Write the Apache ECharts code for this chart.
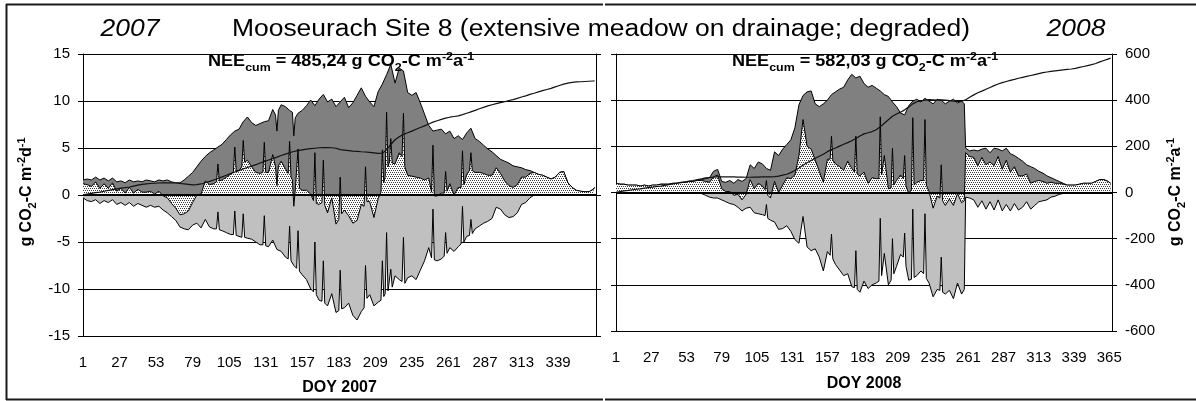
<!DOCTYPE html>
<html>
<head>
<meta charset="utf-8">
<title>Mooseurach Site 8</title>
<script src="https://cdn.jsdelivr.net/npm/echarts@6/dist/echarts.min.js"></script>
<style>
  html, body { margin: 0; padding: 0; background: #ffffff; }
  #chart { width: 1196px; height: 401px; }
</style>
</head>
<body>
<div id="chart"></div>
<script>
// ---- Daily carbon fluxes, Mooseurach Site 8 (g CO2-C m-2 d-1) and cumulative NEE (g CO2-C m-2 a-1)
// Regular readings every third day; short-lived peaks get extra daily readings below.

const doy2007 = [1,4,7,10,13,16,19,22,25,28,
  31,34,37,40,43,46,49,52,55,58,
  61,64,67,70,73,76,79,82,85,88,
  91,94,97,100,103,106,109,112,115,118,
  121,124,127,130,133,136,139,142,145,148,
  151,154,157,160,163,166,169,172,175,178,
  181,184,187,190,193,196,199,202,205,208,
  211,214,217,220,223,226,229,232,235,238,
  241,244,247,250,253,256,259,262,265,268,
  271,274,277,280,283,286,289,292,295,298,
  301,304,307,310,313,316,319,322,325,328,
  331,334,337,340,343,346,349,352,355,358,
  361,364,365];

const reco2007 = [1.6,1.7,1.6,1.9,1.6,1.8,1.5,1.8,1.4,1.5,
  1.3,1.6,1.4,1.5,1.4,1.6,1.5,1.4,1.6,1.5,
  1.6,1.4,1.3,1.3,1.6,2.0,2.4,3.0,3.6,4.1,
  4.5,4.8,5.1,5.4,5.9,6.4,6.8,7.0,7.8,8.3,
  7.7,7.4,7.6,7.8,7.9,9.1,6.8,9.6,9.4,9.0,
  6.3,8.7,9.0,9.5,10.1,9.5,10.2,10.7,9.9,10.2,
  9.4,9.9,10.4,9.3,9.8,10.6,11.4,10.5,9.9,9.4,
  11.0,11.8,12.8,13.9,11.9,13.5,13.2,10.9,10.6,10.9,
  9.8,8.6,7.4,6.8,6.9,7.0,6.5,6.8,6.0,6.3,
  5.9,6.6,7.1,6.0,5.7,5.3,4.9,4.6,4.2,3.8,
  3.6,3.4,3.1,3.0,2.9,2.7,2.6,2.4,2.2,2.1,
  1.9,1.7,1.9,2.4,2.5,1.3,0.8,0.5,0.4,0.35,
  0.35,0.6,0.8];

const gpp2007 = [-0.3,-0.6,-0.7,-0.5,-0.9,-0.6,-0.8,-0.5,-1.0,-0.8,
  -1.1,-0.8,-1.2,-0.9,-1.1,-1.3,-1.1,-1.3,-1.2,-1.6,
  -1.9,-2.3,-2.7,-3.4,-3.6,-3.7,-3.2,-3.0,-3.5,-2.6,
  -3.4,-3.6,-1.8,-3.8,-4.0,-4.2,-1.7,-4.4,-2.0,-4.6,
  -4.7,-5.0,-5.3,-2.2,-5.5,-4.8,-5.8,-6.0,-6.6,-3.3,
  -7.5,-3.8,-8.5,-9.0,-10.0,-5.0,-11.2,-7.0,-11.8,-10.5,
  -12.5,-8.0,-12.0,-11.5,-12.8,-13.3,-12.4,-7.5,-10.6,-11.8,
  -11.4,-7.0,-4.0,-7.9,-8.6,-9.0,-4.5,-8.8,-8.6,-9.0,
  -8.0,-7.0,-5.6,-1.5,-7.0,-6.8,-4.0,-5.6,-6.0,-5.5,
  -1.2,-4.4,-2.6,-3.6,-3.3,-3.0,-2.8,-2.5,-1.3,-1.5,
  -2.1,-2.4,-2.3,-1.9,-1.0,-0.8,-0.3,0,0,0,
  0,0,0,0,0,0,0,0,0,0,
  0,0,0];

const nee2007 = [1.2,1.1,0.9,1.4,0.7,1.2,0.7,1.3,0.4,0.7,
  0.2,0.8,0.2,0.6,0.3,0.3,0.4,0.1,0.4,-0.1,
  -0.3,-0.9,-1.4,-2.1,-2.0,-1.7,-0.8,0.0,0.1,1.5,
  1.1,1.2,3.3,1.6,1.9,2.2,5.1,2.6,5.8,3.7,
  3.0,2.4,2.3,5.6,2.4,4.3,1.0,3.6,2.8,5.7,
  -1.2,4.9,0.5,0.5,0.1,4.5,-1.0,3.7,-1.9,-0.3,
  -3.1,1.9,-1.6,-2.2,-3.0,-2.7,-1.0,3.0,-0.7,-2.4,
  -0.4,4.8,8.8,6.0,3.3,4.5,8.7,2.1,2.0,1.9,
  1.8,1.6,1.8,5.3,-0.1,0.2,2.5,1.2,0.0,0.8,
  4.7,2.2,4.5,2.4,2.4,2.3,2.1,2.1,2.9,2.3,
  1.5,1.0,0.8,1.1,1.9,1.9,2.3,2.4,2.2,2.1,
  1.9,1.7,1.9,2.4,2.5,1.3,0.8,0.5,0.4,0.35,
  0.35,0.6,0.8];

const neeCum2007 = [1,4,7,10,12,16,20,23,26,29,
  31,34,38,42,45,47,49,50,51,52,
  52,52,51,49,47,45,43,44,47,52,
  58,64,70,77,84,91,98,104,111,117,
  123,129,136,142,149,155,161,168,174,180,
  185,189,192,195,197,199,201,202,202,201,
  199,193,191,189,187,186,184,183,181,179,
  177,178,192,215,235,248,258,265,272,280,
  287,294,302,310,316,322,327,331,334,337,
  342,348,354,360,367,373,379,384,389,393,
  397,402,406,411,417,422,428,433,439,444,
  449,454,460,466,472,476,479,481,482,483,
  484,485,485.24];

// extra daily readings [day, value] around short peaks and dips, 2007
const recoPeaks2007 = [[138,8.5],[140,9.0],[150,8.8],[152,8.2]];
const gppPeaks2007 = [[96,-3.6],[98,-3.7],[108,-4.2],[110,-4.3],[114,-4.5],[116,-4.5],
  [129,-5.3],[131,-5.4],[147,-6.8],[149,-7.0],[153,-7.8],[155,-8.1],
  [165,-10.3],[167,-10.6],[171,-11.3],[173,-11.5],[183,-12.3],[185,-12.1],
  [201,-12.0],[203,-11.0],[213,-11.2],[215,-10.8],[216,-10.5],[218,-10.2],[219,-10.0],[221,-9.8],
  [228,-9.2],[230,-9.4],[249,-6.7],[251,-6.9],[258,-6.5],[260,-6.2],
  [270,-5.2],[272,-5.0],[276,-4.3],[278,-4.1]];
const neePeaks2007 = [[96,1.4],[98,1.5],[108,2.5],[110,2.6],[114,3.0],[116,3.5],
  [129,2.4],[131,2.4],[138,3.0],[140,3.1],[147,2.3],[149,1.9],[150,1.6],[152,0.5],[153,0.6],[155,0.7],
  [165,-0.6],[167,-0.9],[171,-0.8],[173,-1.1],[183,-2.6],[185,-2.0],
  [201,-1.2],[203,-0.7],[213,0.3],[215,1.3],[216,2.0],[218,3.0],[219,3.5],[221,3.4],
  [228,4.1],[230,3.0],[249,0.3],[251,-0.1],[258,0.2],[260,0.4],
  [270,0.8],[272,1.1],[276,2.6],[278,2.6]];

const doy2008 = [1,4,7,10,13,16,19,22,25,28,
  31,34,37,40,43,46,49,52,55,58,
  61,64,67,70,73,76,79,82,85,88,
  91,94,97,100,103,106,109,112,115,118,
  121,124,127,130,133,136,139,142,145,148,
  151,154,157,160,163,166,169,172,175,178,
  181,184,187,190,193,196,199,202,205,208,
  211,214,217,220,223,226,229,232,235,238,
  241,244,247,250,253,256,259,262,265,268,
  271,274,277,280,283,286,289,292,295,298,
  301,304,307,310,313,316,319,322,325,328,
  331,334,337,340,343,346,349,352,355,358,
  361,364,366];

const reco2008 = [1.0,0.9,0.9,0.8,0.8,0.8,0.7,0.8,0.7,0.8,
  0.8,0.9,0.9,0.9,1.0,1.0,1.1,1.1,1.2,1.2,
  1.3,1.4,1.5,1.6,2.3,2.5,1.2,1.1,1.3,1.0,
  1.4,1.2,1.5,3.0,2.6,3.3,3.1,2.6,2.4,4.4,
  4.0,4.7,5.2,5.7,7.0,9.5,10.5,10.9,11.0,9.6,
  9.3,9.6,10.0,10.6,10.9,11.2,11.4,12.2,12.8,12.4,
  12.6,11.8,11.4,11.6,11.3,11.0,10.6,10.4,9.8,9.3,
  8.6,8.4,9.4,9.9,10.1,9.8,10.2,9.9,9.6,10.1,
  10.0,9.6,9.9,10.1,9.7,9.9,4.8,4.5,4.6,4.5,
  4.7,4.8,4.3,4.8,4.7,4.5,4.8,4.2,4.0,3.7,
  3.4,3.0,2.8,2.6,2.3,2.1,1.8,1.6,1.4,1.2,
  1.0,0.8,0.8,0.8,0.9,1.0,1.0,1.0,1.2,1.4,
  1.4,1.2,1.0];

const gpp2008 = [0,0,0,0,0,0,0,0,0,0,
  0,0,0,0,0,0,0,0,0,0,
  0,-0.1,-0.3,-0.5,-0.6,-0.6,-0.8,-1.0,-1.2,-1.3,
  -1.6,-2.0,-1.7,-1.6,-2.2,-2.3,-2.4,-1.3,-3.0,-3.2,
  -4.0,-3.9,-3.6,-4.2,-5.1,-5.5,-2.6,-5.9,-6.3,-6.1,
  -7.0,-8.5,-6.4,-4.5,-7.8,-8.4,-9.0,-8.8,-10.2,-6.3,
  -10.8,-9.6,-10.4,-10.0,-9.8,-2.8,-6.6,-10.0,-5.0,-8.0,
  -6.7,-4.4,-9.5,-1.8,-9.0,-8.5,-2.3,-9.8,-11.3,-10.5,
  -7.0,-11.0,-10.6,-11.5,-9.8,-11.0,-0.5,-0.6,-0.8,-1.6,
  -0.9,-1.8,-1.0,-1.9,-0.8,-2.0,-1.3,-2.0,-1.2,-1.9,
  -1.6,-1.0,-1.8,-1.4,-1.0,-0.9,-0.8,-0.5,-0.4,-0.2,
  -0.1,0,0,0,0,0,0,0,0,0,
  0,0,0];

const nee2008 = [1.0,0.9,0.9,0.8,0.8,0.8,0.7,0.8,0.7,0.8,
  0.8,0.9,0.9,0.9,1.0,1.0,1.1,1.1,1.2,1.2,
  1.3,1.3,1.2,1.1,1.7,1.9,0.4,0.1,0.1,-0.3,
  -0.2,-0.8,-0.2,1.4,0.4,1.0,0.7,1.3,-0.6,1.2,
  0.0,0.8,1.6,1.5,1.9,4.0,7.9,5.0,4.7,3.5,
  2.3,1.1,3.6,6.1,3.1,2.8,2.4,3.4,2.6,6.1,
  1.8,2.2,1.0,1.6,1.5,8.2,4.0,0.4,4.8,1.3,
  1.9,4.0,-0.1,8.1,1.1,1.3,7.9,0.1,-1.7,-0.4,
  3.0,-1.4,-0.7,-1.4,-0.1,-1.1,4.3,3.9,3.8,2.9,
  3.8,3.0,3.3,2.9,3.9,2.5,3.5,2.2,2.8,1.8,
  1.8,2.0,1.0,1.2,1.3,1.2,1.0,1.1,1.0,1.0,
  0.9,0.8,0.8,0.8,0.9,1.0,1.0,1.0,1.2,1.4,
  1.4,1.2,1.0];

const neeCum2008 = [1,4,7,9,12,14,16,19,21,23,
  26,28,31,34,37,40,43,46,49,52,
  56,59,63,65,67,68,68,68,68,68,
  67,67,66,66,67,67,68,68,68,69,
  71,75,79,86,95,106,118,129,139,148,
  157,166,177,186,193,201,209,216,224,234,
  245,254,259,264,272,285,300,315,330,340,
  348,358,370,384,393,397,400,402,401,400,
  401,400,398,396,394,395,402,413,423,432,
  439,447,455,463,470,476,481,486,490,495,
  499,503,507,511,515,519,522,525,527,529,
  531,533,535,538,542,546,550,554,559,566,
  572,578,582.03];

// extra daily readings [day, value] around short peaks and the September drop, 2008
const recoPeaks2008 = [[258,9.6]];
const gppPeaks2008 = [[111,-2.5],[113,-2.8],[159,-6.8],[161,-7.2],[177,-10.3],[179,-10.5],
  [195,-9.6],[197,-9.0],[204,-9.5],[206,-8.8],[213,-7.0],[215,-8.0],
  [219,-9.4],[221,-9.2],[228,-8.8],[230,-9.3],[240,-10.6],[242,-10.8],[258,-10.5]];
const neePeaks2008 = [[111,0.3],[113,-0.3],[159,3.6],[161,3.5],[177,2.2],[179,2.0],
  [195,1.5],[197,1.9],[204,0.5],[206,0.8],[213,1.5],[215,0.7],
  [219,0.3],[221,0.8],[228,1.3],[230,0.8],[240,-0.6],[242,-0.9],[258,-0.9]];

// Axis tick labels
const doyTicks2007 = [1,27,53,79,105,131,157,183,209,235,261,287,313,339];
const doyTicks2008 = [1,27,53,79,105,131,157,183,209,235,261,287,313,339,365];
const fluxTicks = [-15,-10,-5,0,5,10,15];
const cumTicks = [-600,-400,-200,0,200,400,600];

const TITLE = 'Mooseurach Site 8 (extensive meadow on drainage; degraded)';
const YEAR_LEFT = '2007';
const YEAR_RIGHT = '2008';
const X_NAME_LEFT = 'DOY 2007';
const X_NAME_RIGHT = 'DOY 2008';

// ---- helpers
const SANS = "'Liberation Sans', Arial, sans-serif";
function font(size, weight, style) {
  return (style || 'normal') + ' ' + (weight || 'normal') + ' ' + size + 'px ' + SANS;
}

// white fill with a fine staggered black stipple
function stipple() {
  const c = document.createElement('canvas');
  c.width = 4; c.height = 4;
  const g = c.getContext('2d');
  g.fillStyle = '#ffffff';
  g.fillRect(0, 0, 4, 4);
  g.fillStyle = '#3c3c3c';
  g.fillRect(0, 0, 1, 1);
  g.fillRect(2, 0, 1, 1);
  g.fillRect(1, 2, 1, 1);
  g.fillRect(3, 2, 1, 1);
  return c;
}
const dotFill = { image: stipple(), repeat: 'repeat' };

// x is stored as day-1 so that axis ticks fall on 1, 27, 53, ...
function series(days, vals, extra) {
  const pts = days.map((d, i) => [d, vals[i]]).concat(extra || []);
  pts.sort((a, b) => a[0] - b[0]);
  return pts.map(p => [p[0] - 1, p[1]]);
}

function fmtComma(v) { return v.toFixed(2).replace('.', ','); }

const unitRich = {
  n:  { font: font(16, 'bold'), lineHeight: 22, verticalAlign: 'middle', fill: '#000' },
  sb: { font: font(11, 'bold'), lineHeight: 11, verticalAlign: 'bottom', fill: '#000' },
  sp: { font: font(11, 'bold'), lineHeight: 11, verticalAlign: 'top', fill: '#000' }
};
function neeText(total) {
  return '{n|NEE}{sb|cum}{n| = ' + fmtComma(total) + ' g CO}{sb|2}{n|-C m}{sp|-2}{n|a}{sp|-1}';
}
const unitDaily = '{n|g CO}{sb|2}{n|-C m}{sp|-2}{n|d}{sp|-1}';
const unitAnnual = '{n|g CO}{sb|2}{n|-C m}{sp|-2}{n|a}{sp|-1}';

function xAxisFor(gi, ticks, maxV, name, gap) {
  return {
    type: 'value', gridIndex: gi, min: 0, max: maxV, interval: ticks[1] - ticks[0],
    axisLine: { show: true, onZero: false, lineStyle: { color: '#000', width: 1 } },
    axisTick: { show: false },
    splitLine: { show: false },
    axisLabel: {
      margin: 19, fontSize: 15, fontFamily: SANS, color: '#000',
      showMinLabel: true, showMaxLabel: true, hideOverlap: false,
      formatter: v => (ticks.indexOf(Math.round(v) + 1) >= 0 && Math.abs(v - Math.round(v)) < 1e-6) ? String(Math.round(v) + 1) : ''
    },
    name: name, nameLocation: 'middle', nameGap: gap,
    nameTextStyle: { fontSize: 16, fontWeight: 'bold', fontFamily: SANS, color: '#000' }
  };
}

function yAxisFor(gi, ticks, pos, showLabels, showGrid) {
  return {
    type: 'value', gridIndex: gi, position: pos,
    min: ticks[0], max: ticks[ticks.length - 1], interval: ticks[1] - ticks[0],
    axisLine: { show: true, onZero: false, lineStyle: { color: '#000', width: 1 } },
    axisTick: { show: true, inside: false, length: 5, lineStyle: { color: '#000', width: 1 } },
    axisLabel: { show: showLabels, margin: 13, fontSize: 15, fontFamily: SANS, color: '#000' },
    splitLine: { show: showGrid, lineStyle: { color: '#000', width: 1 } }
  };
}

function area(xi, yi, data, fill, z, extra) {
  return Object.assign({
    type: 'line', xAxisIndex: xi, yAxisIndex: yi, data: data,
    showSymbol: false, symbol: 'none', smooth: false, silent: true, animation: false,
    lineStyle: { color: '#000', width: 1 },
    areaStyle: { color: fill, opacity: 1, origin: 'auto' },
    z: z
  }, extra || {});
}

function zeroLine() {
  return {
    silent: true, symbol: 'none', animation: false,
    label: { show: false },
    lineStyle: { color: '#000', width: 2, type: 'solid' },
    data: [{ yAxis: 0 }]
  };
}

function cumLine(xi, yi, data) {
  return {
    type: 'line', xAxisIndex: xi, yAxisIndex: yi, data: data,
    showSymbol: false, symbol: 'none', silent: true, animation: false,
    lineStyle: { color: '#111', width: 1.2 }, z: 6
  };
}

const frame = { stroke: '#1a1a1a', lineWidth: 2 };

const option = {
  animation: false,
  backgroundColor: '#ffffff',
  grid: [
    { left: 83, top: 54, width: 513, height: 282, containLabel: false, outerBoundsMode: 'none' },
    { left: 616, top: 54, width: 496, height: 277, containLabel: false, outerBoundsMode: 'none' }
  ],
  xAxis: [
    xAxisFor(0, doyTicks2007, 365, X_NAME_LEFT, 44),
    xAxisFor(1, doyTicks2008, 366, X_NAME_RIGHT, 45)
  ],
  yAxis: [
    yAxisFor(0, fluxTicks, 'left', true, true),
    yAxisFor(0, cumTicks, 'right', false, false),
    yAxisFor(1, fluxTicks, 'left', false, true),
    yAxisFor(1, cumTicks, 'right', true, false)
  ],
  series: [
    area(0, 0, series(doy2007, reco2007, recoPeaks2007), '#808080', 2),
    area(0, 0, series(doy2007, gpp2007, gppPeaks2007), '#c0c0c0', 3),
    area(0, 0, series(doy2007, nee2007, neePeaks2007), dotFill, 4, { markLine: zeroLine() }),
    cumLine(0, 1, series(doy2007, neeCum2007)),

    area(1, 2, series(doy2008, reco2008, recoPeaks2008), '#808080', 2),
    area(1, 2, series(doy2008, gpp2008, gppPeaks2008), '#c0c0c0', 3),
    area(1, 2, series(doy2008, nee2008, neePeaks2008), dotFill, 4, { markLine: zeroLine() }),
    cumLine(1, 3, series(doy2008, neeCum2008))
  ],
  graphic: [
    { type: 'line', z: 100, silent: true, shape: { x1: 6, y1: 4.5, x2: 603, y2: 4.5 }, style: frame },
    { type: 'line', z: 100, silent: true, shape: { x1: 605, y1: 4.5, x2: 1196, y2: 4.5 }, style: frame },
    { type: 'line', z: 100, silent: true, shape: { x1: 6, y1: 399.5, x2: 603, y2: 399.5 }, style: frame },
    { type: 'line', z: 100, silent: true, shape: { x1: 605, y1: 399.5, x2: 1196, y2: 399.5 }, style: frame },
    { type: 'line', z: 100, silent: true, shape: { x1: 6.5, y1: 4, x2: 6.5, y2: 400 }, style: frame },

    { type: 'text', z: 100, silent: true, x: 130, y: 30, scaleX: 1.15,
      style: { text: YEAR_LEFT, font: font(23, 'normal', 'italic'), fill: '#000', align: 'center', verticalAlign: 'middle' } },
    { type: 'text', z: 100, silent: true, x: 601, y: 30, scaleX: 1.15,
      style: { text: TITLE, font: font(23), fill: '#000', align: 'center', verticalAlign: 'middle' } },
    { type: 'text', z: 100, silent: true, x: 1076, y: 30, scaleX: 1.15,
      style: { text: YEAR_RIGHT, font: font(23, 'normal', 'italic'), fill: '#000', align: 'center', verticalAlign: 'middle' } },

    { type: 'text', z: 100, silent: true, x: 341, y: 62, scaleX: 1.13,
      style: { text: neeText(neeCum2007[neeCum2007.length - 1]), rich: unitRich, fill: '#000', align: 'center', verticalAlign: 'middle' } },
    { type: 'text', z: 100, silent: true, x: 865, y: 62, scaleX: 1.13,
      style: { text: neeText(neeCum2008[neeCum2008.length - 1]), rich: unitRich, fill: '#000', align: 'center', verticalAlign: 'middle' } },

    { type: 'text', z: 100, silent: true, x: 27, y: 192, rotation: Math.PI / 2,
      style: { text: unitDaily, rich: unitRich, fill: '#000', align: 'center', verticalAlign: 'middle' } },
    { type: 'text', z: 100, silent: true, x: 1176, y: 192, rotation: Math.PI / 2,
      style: { text: unitAnnual, rich: unitRich, fill: '#000', align: 'center', verticalAlign: 'middle' } }
  ]
};

const chart = echarts.init(document.getElementById('chart'), null, { renderer: 'canvas' });
chart.setOption(option);
</script>
</body>
</html>
